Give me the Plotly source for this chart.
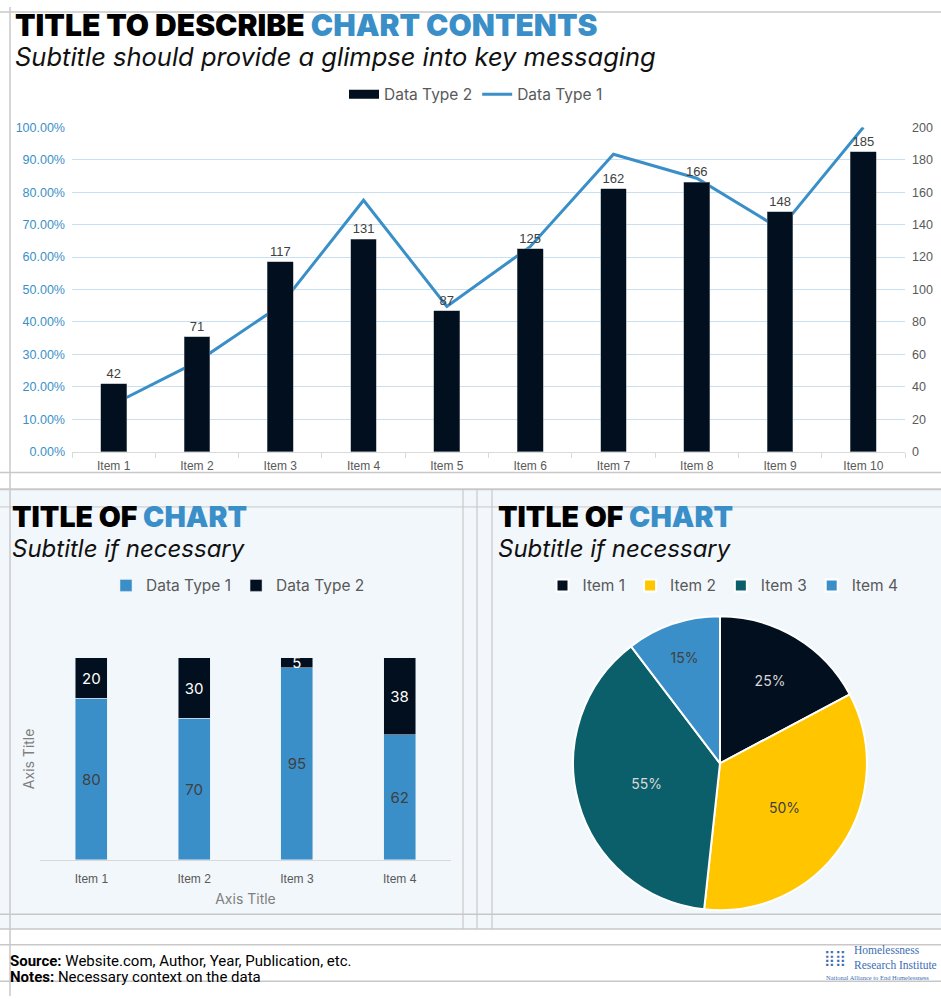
import plotly.graph_objects as go

# ---------------- data ----------------
main_items = ["Item 1", "Item 2", "Item 3", "Item 4", "Item 5",
              "Item 6", "Item 7", "Item 8", "Item 9", "Item 10"]
type2_values = [42, 71, 117, 131, 87, 125, 162, 166, 148, 185]
type1_share = [0.147, 0.277, 0.45, 0.775, 0.448, 0.632, 0.917, 0.843, 0.687, 1.0]
left_ticks = [0, 0.1, 0.2, 0.3, 0.4, 0.5, 0.6, 0.7, 0.8, 0.9, 1.0]
right_ticks = [0, 20, 40, 60, 80, 100, 120, 140, 160, 180, 200]

stack_items = ["Item 1", "Item 2", "Item 3", "Item 4"]
stack_type1 = [80, 70, 95, 62]
stack_type2 = [20, 30, 5, 38]

pie_labels = ["Item 1", "Item 2", "Item 3", "Item 4"]
pie_values = [25, 50, 55, 15]
pie_text = ["25%", "50%", "55%", "15%"]

# ---------------- styles ----------------
W, H = 941, 1003
DARK = "#020f1e"
BLUE = "#3a8fc8"
YELLOW = "#ffc600"
TEAL = "#0a5f6b"
GRID = "#c9dff0"
LINEGRAY = "#c8c8c8"
PANEL = "#f2f7fb"
TXT = "#595959"
HEAD = "Inter"
BODY = "Inter"
ARIAL = "Liberation Sans"


def X(px):
    return px / W


def Y(px):
    return 1 - px / H


fig = go.Figure()

# ---- main combo chart ----
fig.add_trace(go.Scatter(x=[None], y=[None], mode="lines", name="Data Type 2",
                         line=dict(color=DARK, width=9), legend="legend",
                         hoverinfo="skip"))
fig.add_trace(go.Bar(x=main_items, y=type2_values, name="Data Type 2",
                     marker=dict(color=DARK, line=dict(color="#8a939c", width=0.5)),
                     width=0.31, yaxis="y2", xaxis="x",
                     text=type2_values, textposition="outside",
                     textfont=dict(family=ARIAL, size=13, color="#404040"),
                     cliponaxis=False, showlegend=False))
fig.add_trace(go.Scatter(x=main_items, y=type1_share, name="Data Type 1",
                         mode="lines", line=dict(color=BLUE, width=3),
                         xaxis="x", yaxis="y", legend="legend", cliponaxis=False))

# ---- stacked bar chart ----
fig.add_trace(go.Bar(x=stack_items, y=stack_type1, name="Data Type 1",
                     marker=dict(color=BLUE), width=0.31,
                     xaxis="x3", yaxis="y3", legend="legend2",
                     text=stack_type1, textposition="inside", textangle=0,
                     insidetextanchor="middle",
                     textfont=dict(family=BODY, size=15, color="#404040")))
fig.add_trace(go.Bar(x=stack_items, y=stack_type2, name="Data Type 2",
                     marker=dict(color=DARK), width=0.31,
                     xaxis="x3", yaxis="y3", legend="legend2",
                     text=stack_type2, textposition="inside", textangle=0,
                     insidetextanchor="middle", constraintext="none",
                     textfont=dict(family=BODY, size=15, color="#ffffff")))

# ---- pie chart ----
fig.add_trace(go.Pie(labels=pie_labels, values=pie_values, text=pie_text,
                     textinfo="text", sort=False, direction="clockwise",
                     rotation=0, legend="legend3",
                     marker=dict(colors=[DARK, YELLOW, TEAL, BLUE],
                                 line=dict(color="#ffffff", width=2)),
                     textposition="inside", insidetextorientation="horizontal",
                     textfont=dict(family=BODY, size=14,
                                   color=["#d9d9d9", "#404040", "#d9d9d9", "#404040"]),
                     domain=dict(x=[X(571), X(869)], y=[Y(916), Y(618)]),
                     hoverinfo="label+percent"))

legend_common = dict(orientation="h", xanchor="center", yanchor="middle",
                     bgcolor="rgba(0,0,0,0)", traceorder="normal", itemwidth=30,
                     font=dict(family=BODY, size=15.5, color=TXT))

fig.update_layout(
    width=W, height=H, autosize=False,
    margin=dict(l=0, r=0, t=0, b=0),
    paper_bgcolor="#ffffff", plot_bgcolor="rgba(0,0,0,0)",
    barmode="stack",
    showlegend=True,
    font=dict(family=BODY, color=TXT),
    xaxis=dict(type="category", categoryorder="array", categoryarray=main_items,
               domain=[X(72), X(905)], anchor="y", showgrid=False,
               showline=True, linecolor="#d9d9d9", linewidth=1,
               ticks="outside", tickson="boundaries", ticklen=5,
               tickcolor="#d9d9d9", ticklabelstandoff=3,
               tickfont=dict(family=ARIAL, size=12, color=TXT)),
    yaxis=dict(domain=[Y(451), Y(122)], range=[0, 1], tickvals=left_ticks,
               tickformat=".2%", showgrid=True, gridcolor=GRID, gridwidth=1,
               zeroline=False, ticks="", ticklabelstandoff=6,
               tickfont=dict(family=ARIAL, size=12.5, color=BLUE)),
    yaxis2=dict(overlaying="y", side="right", range=[0, 200], tickvals=right_ticks,
                showgrid=False, zeroline=False, anchor="x", ticklabelstandoff=6,
                tickfont=dict(family=ARIAL, size=12.5, color=TXT)),
    xaxis3=dict(type="category", domain=[X(40), X(451)], anchor="y3", showgrid=False,
                showline=True, linecolor="#d9d9d9", linewidth=1, ticks="",
                ticklabelstandoff=8,
                tickfont=dict(family=ARIAL, size=12, color=TXT),
                title=dict(text="Axis Title", standoff=8,
                           font=dict(family=BODY, size=14, color="#7f7f7f"))),
    yaxis3=dict(domain=[Y(865), Y(660)], range=[0, 100], anchor="x3",
                showgrid=False, zeroline=False, showticklabels=False,
                title=dict(text="Axis Title", standoff=1,
                           font=dict(family=BODY, size=14, color="#7f7f7f"))),
    legend=dict(legend_common, x=X(476), y=Y(89)),
    legend2=dict(legend_common, x=X(238), y=Y(587)),
    legend3=dict(legend_common, x=X(723), y=Y(587)),
)

# ---------------- background panels and rule lines ----------------
shapes = [
    dict(type="rect", xref="paper", yref="paper", x0=0, x1=1, y0=Y(935), y1=Y(489),
         fillcolor=PANEL, line=dict(width=0), layer="below"),
]
for ypx, w in [(5, 1.5), (472, 1.5), (489, 2), (507, 1), (920, 1.5), (935, 1.5),
               (951, 1.5), (988, 1.5)]:
    shapes.append(dict(type="line", xref="paper", yref="paper", x0=0, x1=1,
                       y0=Y(ypx), y1=Y(ypx), line=dict(color=LINEGRAY, width=w),
                       layer="below"))
shapes.append(dict(type="line", xref="paper", yref="paper", x0=X(10), x1=X(10),
                   y0=0, y1=1, line=dict(color=LINEGRAY, width=1.5), layer="below"))
for xpx in [463, 477, 492]:
    shapes.append(dict(type="line", xref="paper", yref="paper", x0=X(xpx), x1=X(xpx),
                       y0=Y(935), y1=Y(489), line=dict(color=LINEGRAY, width=1.2),
                       layer="below"))
fig.update_layout(shapes=shapes)

# ---------------- titles and footer ----------------
ann = []
ann.append(dict(text="TITLE TO DESCRIBE <span style='color:%s'>CHART CONTENTS</span>" % BLUE,
                x=X(13), y=Y(18.5), xanchor="left", yanchor="middle",
                font=dict(family=HEAD, size=30, color="#000000", weight=900)))
ann.append(dict(text="Subtitle should provide a glimpse into key messaging",
                x=X(13), y=Y(50), xanchor="left", yanchor="middle",
                font=dict(family=HEAD, size=25.5, color="#111111", style="italic")))
for xpx in [10, 496]:
    ann.append(dict(text="TITLE OF <span style='color:%s'>CHART</span>" % BLUE,
                    x=X(xpx), y=Y(517), xanchor="left", yanchor="middle",
                    font=dict(family=HEAD, size=28.5, color="#000000", weight=900)))
    ann.append(dict(text="Subtitle if necessary",
                    x=X(xpx), y=Y(549), xanchor="left", yanchor="middle",
                    font=dict(family=HEAD, size=24, color="#111111", style="italic")))
ann.append(dict(text="<b>Source:</b> Website.com, Author, Year, Publication, etc.",
                x=X(8), y=Y(968), xanchor="left", yanchor="middle",
                font=dict(family="Roboto", size=15, color="#000000")))
ann.append(dict(text="<b>Notes:</b> Necessary context on the data",
                x=X(8), y=Y(984), xanchor="left", yanchor="middle",
                font=dict(family="Roboto", size=15, color="#000000")))
# logo
ann.append(dict(text="⣿⣿", x=X(822), y=Y(964), xanchor="left", yanchor="middle",
                font=dict(family="DejaVu Sans", size=15, color="#3e6db3")))
ann.append(dict(text="Homelessness<br>Research Institute", x=X(852), y=Y(964),
                xanchor="left", yanchor="middle", align="left",
                font=dict(family="Liberation Serif", size=11.5, color="#3e6db3")))
ann.append(dict(text="National Alliance to End Homelessness", x=X(824), y=Y(984),
                xanchor="left", yanchor="middle",
                font=dict(family="Liberation Serif", size=6.5, color="#3e6db3")))
for a in ann:
    a.update(xref="paper", yref="paper", showarrow=False)
fig.update_layout(annotations=ann)

fig.write_html(
    "out.html",
    config={"displayModeBar": False},
    post_script=("document.documentElement.style.margin='0';"
                 "document.body.style.margin='0';"),
)
